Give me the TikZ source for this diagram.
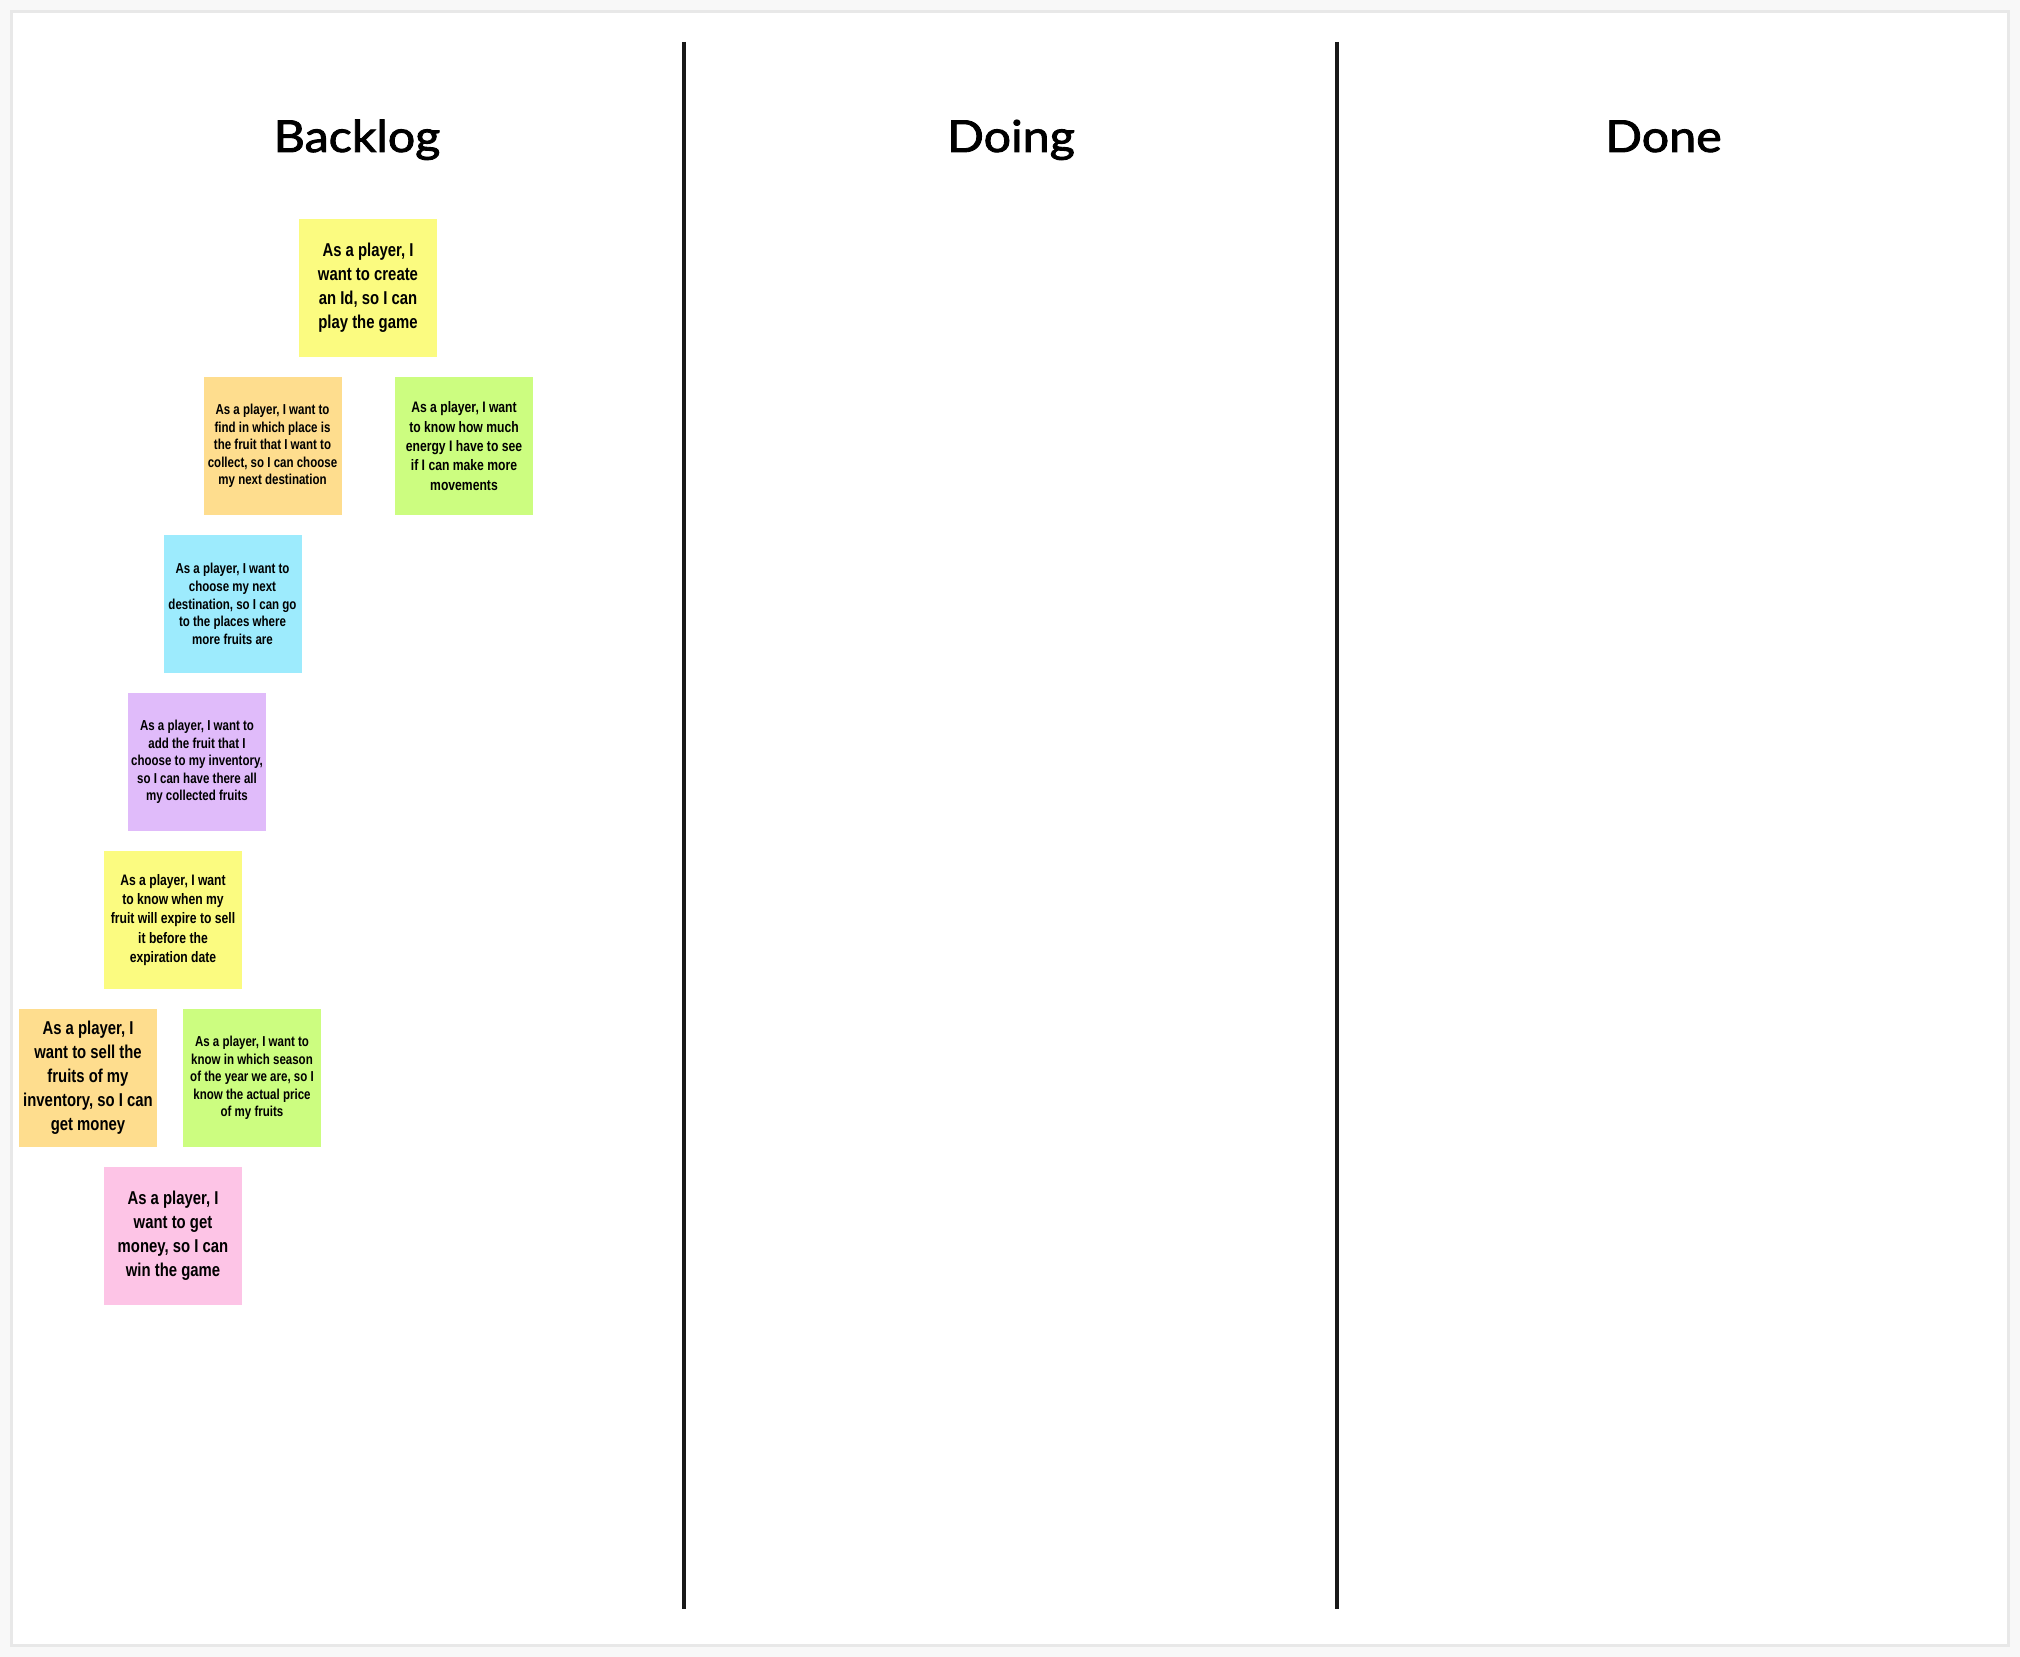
\documentclass[tikz,border=0pt]{standalone}
\usepackage{fontspec}
\newfontfamily\headfont{Lato}[FakeStretch=1.1, FakeBold=2]
\newfontfamily\notefont{Liberation Sans}[FakeStretch=0.8]
\definecolor{outerbg}{HTML}{F8F8F8}
\definecolor{framecol}{HTML}{E8E8E8}
\definecolor{nyellow}{HTML}{FBFB80}
\definecolor{norange}{HTML}{FEDD8E}
\definecolor{ngreen}{HTML}{CCFD80}
\definecolor{ncyan}{HTML}{9DEBFD}
\definecolor{npurple}{HTML}{E0BBFA}
\definecolor{npink}{HTML}{FDC4E6}
\tikzset{
  sticky/.style={rectangle, minimum width=69pt, minimum height=69pt, inner sep=0pt, align=center, text=black},
  bigtext/.style={font=\notefont\bfseries\fontsize{9.3}{12}\selectfont},
  midtext/.style={font=\notefont\bfseries\fontsize{7.6}{9.7}\selectfont},
  smalltext/.style={font=\notefont\bfseries\fontsize{7.2}{8.8}\selectfont},
  heading/.style={font=\headfont\fontsize{22}{26}\selectfont, anchor=base},
  divider/.style={line width=2pt, black!90}
}
\begin{document}
\begin{tikzpicture}[x=0.5pt,y=-0.5pt]
\useasboundingbox (0,0) rectangle (2020,1657);
\fill[outerbg] (0,0) rectangle (2020,1657);
\fill[framecol] (10,10) rectangle (2010,1647);
\fill[white] (12.7,12.7) rectangle (2007,1644.3);
% column dividers
\coordinate (d1t) at (683.5,42);
\coordinate (d1b) at (683.5,1609);
\coordinate (d2t) at (1336.5,42);
\coordinate (d2b) at (1336.5,1609);
\draw[divider] (d1t) -- (d1b);
\draw[divider] (d2t) -- (d2b);
% headings
\node[heading] (hback) at (357,152) {Backlog};
\node[heading] (hdoing) at (1011,152) {Doing};
\node[heading] (hdone) at (1663.5,152) {Done};
% sticky notes
\node[sticky, fill=nyellow, bigtext] (n1) at (368,288) {As a player, I\\want to create\\an Id, so I can\\play the game};
\node[sticky, fill=norange, smalltext] (n2) at (272.5,446) {As a player, I want to\\find in which place is\\the fruit that I want to\\collect, so I can choose\\my next destination};
\node[sticky, fill=ngreen, midtext] (n3) at (464,446) {As a player, I want\\to know how much\\energy I have to see\\if I can make more\\movements};
\node[sticky, fill=ncyan, smalltext] (n4) at (232.5,604) {As a player, I want to\\choose my next\\destination, so I can go\\to the places where\\more fruits are};
\node[sticky, fill=npurple, smalltext] (n5) at (197,762) {As a player, I want to\\add the fruit that I\\choose to my inventory,\\so I can have there all\\my collected fruits};
\node[sticky, fill=nyellow, midtext] (n6) at (173,920) {As a player, I want\\to know when my\\fruit will expire to sell\\it before the\\expiration date};
\node[sticky, fill=norange, bigtext] (n7) at (88,1078) {As a player, I\\want to sell the\\fruits of my\\inventory, so I can\\get money};
\node[sticky, fill=ngreen, smalltext] (n8) at (252,1078) {As a player, I want to\\know in which season\\of the year we are, so I\\know the actual price\\of my fruits};
\node[sticky, fill=npink, bigtext] (n9) at (173,1236) {As a player, I\\want to get\\money, so I can\\win the game};
\end{tikzpicture}
\end{document}
